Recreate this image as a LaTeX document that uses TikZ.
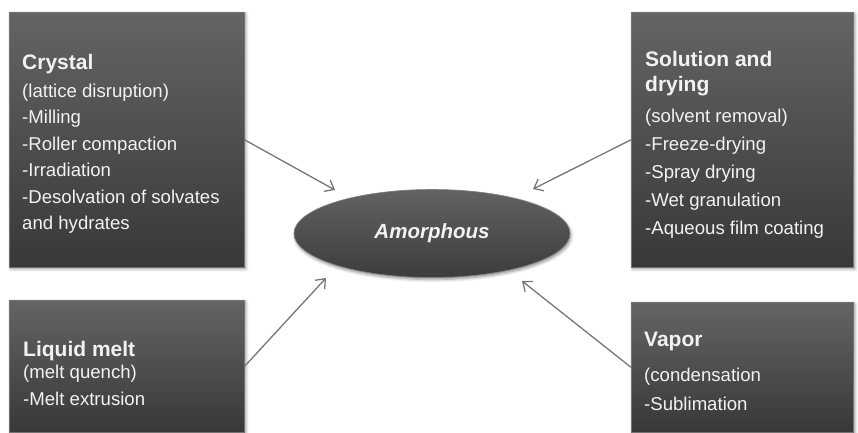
\documentclass[tikz,border=0pt]{standalone}
\usepackage{fontspec}
\setmainfont{Liberation Sans}
\usetikzlibrary{shapes.geometric,arrows.meta,shadows.blur}
\definecolor{boxtop}{RGB}{100,100,100}
\definecolor{boxbot}{RGB}{56,56,56}
\definecolor{elltop}{RGB}{98,98,98}
\definecolor{ellbot}{RGB}{60,60,60}
\definecolor{boxtext}{RGB}{242,242,242}
\definecolor{arrcol}{RGB}{118,118,118}
\tikzset{
  box/.style={draw=black!55, line width=0.6pt, top color=boxtop, bottom color=boxbot,
    inner sep=0, anchor=north west,
    blur shadow={shadow xshift=1.5pt, shadow yshift=-1.5pt, shadow blur radius=3pt, shadow opacity=45}},
  ell/.style={ellipse, draw=black!50, line width=0.6pt, top color=elltop, bottom color=ellbot,
    inner sep=0, minimum width=276, minimum height=88, text=boxtext,
    font=\fontsize{20.5}{24}\selectfont\bfseries\itshape,
    blur shadow={shadow xshift=1pt, shadow yshift=-2pt, shadow blur radius=3pt, shadow opacity=45}},
  ttl/.style={anchor=base west, inner sep=0, text=boxtext, font=\fontsize{21}{25}\selectfont\bfseries},
  bod/.style={anchor=base west, inner sep=0, text=boxtext, font=\fontsize{18.6}{26}\selectfont},
  arr/.style={draw=arrcol, line width=1.3pt, -{Straight Barb[length=8pt,width=13pt,line width=1.3pt]}}
}
\begin{document}
\begin{tikzpicture}[x=1pt,y=-1pt]
\useasboundingbox (0,0) rectangle (858,432);
% boxes
\node[box, minimum width=235, minimum height=255] (tl) at (9,12) {};
\node[box, minimum width=222, minimum height=255] (tr) at (631,12) {};
\node[box, minimum width=235, minimum height=132] (bl) at (9,300) {};
\node[box, minimum width=222, minimum height=130] (br) at (631,302) {};
% ellipse
\node[ell] (am) at (432,233.5) {Amorphous};
% texts top-left
\node[ttl] (tl0) at (22,69) {Crystal};
\node[bod] (tl1) at (22,97) {(lattice disruption)};
\node[bod] (tl2) at (22,123.5) {-Milling};
\node[bod] (tl3) at (22,150) {-Roller compaction};
\node[bod] (tl4) at (22,176.5) {-Irradiation};
\node[bod] (tl5) at (22,203) {-Desolvation of solvates};
\node[bod] (tl6) at (22,229.5) {and hydrates};
% texts top-right
\node[ttl] (tr0) at (645,66) {Solution and};
\node[ttl] (tr1) at (645,91) {drying};
\node[bod] (tr2) at (645,122) {(solvent removal)};
\node[bod] (tr3) at (645,150) {-Freeze-drying};
\node[bod] (tr4) at (645,178) {-Spray drying};
\node[bod] (tr5) at (645,206) {-Wet granulation};
\node[bod] (tr6) at (645,234) {-Aqueous film coating};
% texts bottom-left
\node[ttl] (bl0) at (23,356) {Liquid melt};
\node[bod] (bl1) at (23,378) {(melt quench)};
\node[bod] (bl2) at (23,405) {-Melt extrusion};
% texts bottom-right
\node[ttl] (br0) at (644,346) {Vapor};
\node[bod] (br1) at (644,381) {(condensation};
\node[bod] (br2) at (644,410) {-Sublimation};
% arrow tips
\coordinate (tTL) at (335,190);
\coordinate (tTR) at (533,189);
\coordinate (tBL) at (326,278);
\coordinate (tBR) at (522,281);
\draw[arr] (tl.east) -- (tTL);
\draw[arr] (tr.west) -- (tTR);
\draw[arr] (bl.east) -- (tBL);
\draw[arr] (br.west) -- (tBR);
\end{tikzpicture}
\end{document}
